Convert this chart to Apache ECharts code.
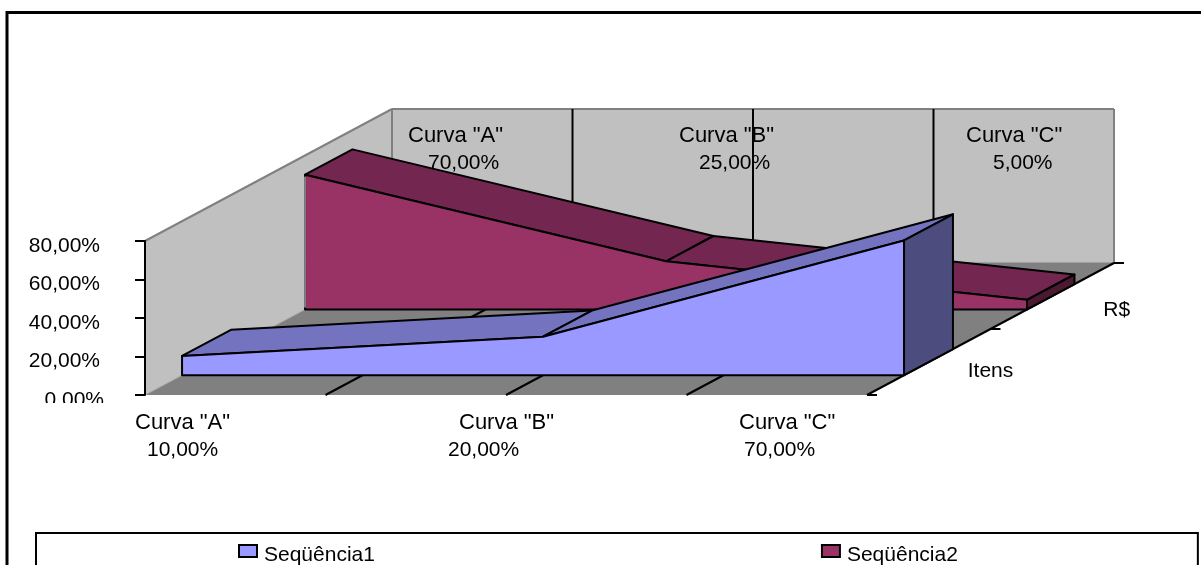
<!DOCTYPE html>
<html>
<head>
<meta charset="utf-8">
<style>
  html, body { margin: 0; padding: 0; background: #fff; }
  #main { width: 1201px; height: 565px; }
</style>
<script src="https://cdn.jsdelivr.net/npm/echarts@6/dist/echarts.min.js"></script>
</head>
<body>
<div id="main"></div>
<script>
const categories = ['Curva "A"', 'Curva "B"', 'Curva "C"'];
const seq1 = [0.1, 0.2, 0.7];
const seq2 = [0.7, 0.25, 0.05];
const seriesNames = ['Seqüência1', 'Seqüência2'];
const depthNames = ['Itens', 'R$'];

const FONT = '"Liberation Sans", Arial, sans-serif';
const FS = 21;
const VMAX = 0.8;

// oblique depth of the fake 3d box, px for depth = 1
const DX = 247;
const DY = -132;

const pct = (v) => (v * 100).toFixed(2).replace('.', ',') + '%';

const project = (api, i, v, d) => {
  const lo = Math.floor(i);
  const p = api.coord([lo, v]);
  if (i !== lo) {
    // category axis rounds fractions, so take the middle of two categories
    const q = api.coord([lo + 1, v]);
    p[0] = (p[0] + q[0]) / 2;
  }
  return [p[0] + d * DX, p[1] + d * DY];
};

const poly = (points, fill, stroke, lineWidth) => ({
  type: 'polygon',
  shape: { points },
  style: { fill, stroke: stroke || 'none', lineWidth: lineWidth || 0, lineJoin: 'round' },
});

const line = (a, b, stroke, lineWidth) => ({
  type: 'line',
  shape: { x1: a[0], y1: a[1], x2: b[0], y2: b[1] },
  style: { stroke, lineWidth: lineWidth || 2 },
});

const text = (s, x, y, size) => ({
  type: 'text',
  style: { text: s, x, y, fill: '#000', fontFamily: FONT, fontSize: size || FS, align: 'left', verticalAlign: 'middle' },
});

// walls, floor and grid lines
const renderBox = (params, api) => {
  if (params.dataIndex !== 0) return null;
  const P = (i, v, d) => project(api, i, v, d);
  const kids = [
    poly([P(0, 0, 0), P(0, VMAX, 0), P(0, VMAX, 1), P(0, 0, 1)], '#c0c0c0'),
    poly([P(0, 0, 1), P(0, VMAX, 1), P(2, VMAX, 1), P(2, 0, 1)], '#c0c0c0'),
    poly([P(0, 0, 0), P(2, 0, 0), P(2, 0, 1), P(0, 0, 1)], '#808080'),
    line(P(0, VMAX, 0), P(0, VMAX, 1), '#808080'),
    line(P(0, VMAX, 1), P(2, VMAX, 1), '#808080'),
    line(P(2, VMAX, 1), P(2, 0, 1), '#808080'),
    line(P(0, VMAX, 1), P(0, 0, 1), '#808080'),
    line(P(0, 0, 0), P(0, 0, 1), '#a8a8a8', 1),
    line(P(0, 0, 1), P(2, 0, 1), '#808080', 1),
  ];
  [0.5, 1, 1.5].forEach((i) => {
    kids.push(line(P(i, 0, 0), P(i, 0, 1), '#000'));
    kids.push(line(P(i, 0, 1), P(i, VMAX, 1), '#000'));
  });
  // depth axis with its ticks
  kids.push(line(P(2, 0, 0), P(2, 0, 1), '#000'));
  [0, 0.5, 1].forEach((d) => {
    const p = P(2, 0, d);
    kids.push(line(p, [p[0] + 10, p[1]], '#000'));
  });
  return { type: 'group', children: kids };
};

// one area ribbon, drawn whole from its three values
const ribbon = (values, d0, d1, front, top, side, leftEdge) => (params, api) => {
  if (params.dataIndex !== 0) return null;
  const n = values.length - 1;
  const P = (i, v, d) => project(api, i, v, d);
  const kids = [];
  for (let i = 0; i < n; i++) {
    kids.push(poly([P(i, values[i], d0), P(i, values[i], d1), P(i + 1, values[i + 1], d1), P(i + 1, values[i + 1], d0)], top, '#000', 2));
  }
  const face = [P(0, 0, d0)];
  values.forEach((v, i) => face.push(P(i, v, d0)));
  face.push(P(n, 0, d0));
  kids.push(poly(face, front, '#000', 2));
  kids.push(poly([P(n, 0, d0), P(n, values[n], d0), P(n, values[n], d1), P(n, 0, d1)], side, '#000', 2));
  if (leftEdge) kids.push(line(P(0, 0.01, d0), P(0, values[0] - 0.01, d0), leftEdge));
  return { type: 'group', children: kids };
};

// offsets of the two text lines from the anchor point of each category
const frontOffset = [[-10, 2], [-47, -58], [-128, -123]];
const backOffset = [[16, 36], [-74, -54], [-148, -121]];

const renderLabels = (params, api) => {
  if (params.dataIndex !== 0) return null;
  const kids = [];
  categories.forEach((c, i) => {
    const f = project(api, i, 0, 0);
    kids.push(text(c, f[0] + frontOffset[i][0], f[1] + 28, 22));
    kids.push(text(pct(seq1[i]), f[0] + frontOffset[i][1], f[1] + 55));
    const b = project(api, i, VMAX, 1);
    kids.push(text(c, b[0] + backOffset[i][0], b[1] + 27, 22));
    kids.push(text(pct(seq2[i]), b[0] + backOffset[i][1], b[1] + 54));
  });
  const n = categories.length - 1;
  const a = project(api, n, 0, 0.25);
  kids.push(text(depthNames[0], a[0] + 39, a[1] + 9));
  const r = project(api, n, 0, 0.75);
  kids.push(text(depthNames[1], r[0] + 51, r[1] + 14));
  return { type: 'group', children: kids };
};

const chart = echarts.init(document.getElementById('main'), null, { renderer: 'canvas' });

chart.setOption({
  animation: false,
  backgroundColor: '#fff',
  tooltip: { show: false },
  grid: { left: 145, right: 334, top: 241, bottom: 170 },
  xAxis: {
    type: 'category',
    data: categories,
    boundaryGap: false,
    axisLine: { show: false },
    axisTick: { show: false },
    axisLabel: { show: false },
    splitLine: { show: false },
  },
  yAxis: {
    type: 'value',
    min: 0,
    max: VMAX,
    interval: 0.2,
    z: 10,
    axisLine: { show: true, lineStyle: { color: '#000', width: 2 } },
    axisTick: { show: true, length: 10, lineStyle: { color: '#000', width: 2 } },
    splitLine: { show: false },
    axisLabel: {
      margin: 41,
      color: '#000',
      fontFamily: FONT,
      fontSize: FS,
      padding: [10, 0, 0, 0],
      formatter: (v) => (v === 0 ? pct(v) : '{n|' + pct(v) + '}'),
      rich: { n: { fontFamily: FONT, fontSize: FS, color: '#000', padding: [0, 4, 0, 0] } },
    },
  },
  legend: {
    data: seriesNames,
    left: 36,
    top: 533,
    icon: 'rect',
    orient: 'horizontal',
    itemWidth: 18,
    itemHeight: 12,
    itemGap: 446,
    padding: [11, 240, 30, 202],
    borderColor: '#000',
    borderWidth: 2,
    itemStyle: { borderColor: '#000', borderWidth: 2 },
    formatter: (name) => '{t|' + name + '}',
    textStyle: {
      color: '#000',
      fontFamily: FONT,
      fontSize: FS,
      rich: { t: { fontFamily: FONT, fontSize: FS, color: '#000', lineHeight: 30, verticalAlign: 'bottom', padding: [0, 0, 0, 2] } },
    },
  },
  graphic: [
    // chart frame, runs past the right and bottom of the page like the original
    { type: 'rect', z: -1, shape: { x: 7, y: 12.5, width: 1300, height: 600 }, style: { fill: 'none', stroke: '#000', lineWidth: 3 } },
    // the lowest tick label is cut off
    { type: 'rect', z: 100, shape: { x: 30, y: 403, width: 90, height: 6 }, style: { fill: '#fff' } },
  ],
  series: [
    { type: 'custom', name: 'box', renderItem: renderBox, data: [[0, 0]], z: 1, silent: true },
    { type: 'custom', name: 'labels', renderItem: renderLabels, data: [[0, 0]], z: 2, silent: true },
    {
      type: 'custom',
      name: seriesNames[1],
      renderItem: ribbon(seq2, 0.648, 0.84, '#993366', '#732650', '#4c1933', '#808080'),
      data: seq2.map((v, i) => [i, v]),
      itemStyle: { color: '#993366' },
      z: 3,
      silent: true,
    },
    {
      type: 'custom',
      name: seriesNames[0],
      renderItem: ribbon(seq1, 0.15, 0.348, '#9999ff', '#7373bf', '#4c4c7f'),
      data: seq1.map((v, i) => [i, v]),
      itemStyle: { color: '#9999ff' },
      z: 4,
      silent: true,
    },
  ],
});
</script>
</body>
</html>
